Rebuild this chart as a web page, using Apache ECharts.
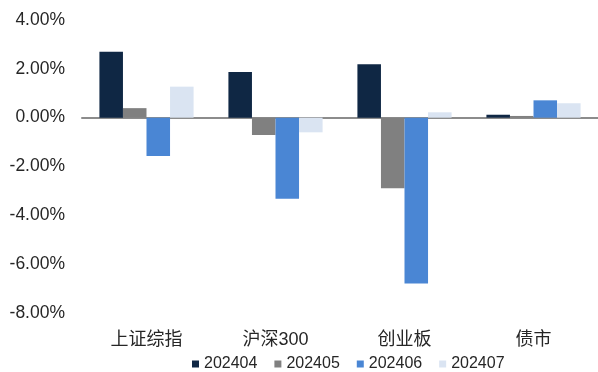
<!DOCTYPE html>
<html>
<head>
<meta charset="utf-8">
<script src="https://cdn.jsdelivr.net/npm/echarts@6/dist/echarts.min.js"></script>
<style>
  html, body { margin: 0; padding: 0; background: #fff; }
  #chart { width: 598px; height: 372px; }
</style>
</head>
<body>
<div id="chart"></div>
<script>
// Monthly returns (%) by market segment
const categories = ['上证综指', '沪深300', '创业板', '债市'];
const seriesNames = ['202404', '202405', '202406', '202407'];
const s202404 = [2.70, 1.87, 2.19, 0.12];
const s202405 = [0.39, -0.71, -2.89, 0.07];
const s202406 = [-1.57, -3.32, -6.79, 0.71];
const s202407 = [1.27, -0.60, 0.22, 0.59];
const colors = ['#0f2744', '#808080', '#4a86d4', '#dae4f2'];

const values = [s202404, s202405, s202406, s202407];
const fontFamily = '"Liberation Sans", Arial, "Noto Sans CJK SC", sans-serif';
const textColor = '#262626';

const chart = echarts.init(document.getElementById('chart'));
chart.setOption({
  animation: false,
  color: colors,
  grid: { left: 82, right: 0, top: 20, bottom: 59, containLabel: false },
  legend: {
    left: 192,
    bottom: 0,
    padding: 0,
    itemWidth: 7,
    itemHeight: 7,
    itemGap: 17,
    icon: 'rect',
    textStyle: { fontFamily, fontSize: 16, color: textColor },
    data: seriesNames
  },
  xAxis: [{
    // zero line across the plot
    type: 'category', data: categories,
    axisLine: { onZero: true, lineStyle: { color: '#8c8c8c', width: 2 } },
    axisTick: { show: false },
    axisLabel: { show: false }
  }, {
    // category names under the plot area
    type: 'category', data: categories, position: 'bottom', offset: 18,
    axisLine: { show: false }, axisTick: { show: false },
    axisLabel: { fontFamily, fontSize: 18, color: textColor, margin: 0 }
  }],
  yAxis: {
    type: 'value',
    min: -8, max: 4, interval: 2,
    splitLine: { show: false },
    axisLine: { show: false },
    axisTick: { show: false },
    axisLabel: {
      fontFamily, fontSize: 17.5, color: textColor, margin: 17,
      formatter: v => v.toFixed(2) + '%'
    }
  },
  series: seriesNames.map((name, i) => ({
    name,
    type: 'bar',
    xAxisIndex: 0,
    data: values[i],
    barGap: '0%',
    barCategoryGap: '27%'
  }))
});
</script>
</body>
</html>
